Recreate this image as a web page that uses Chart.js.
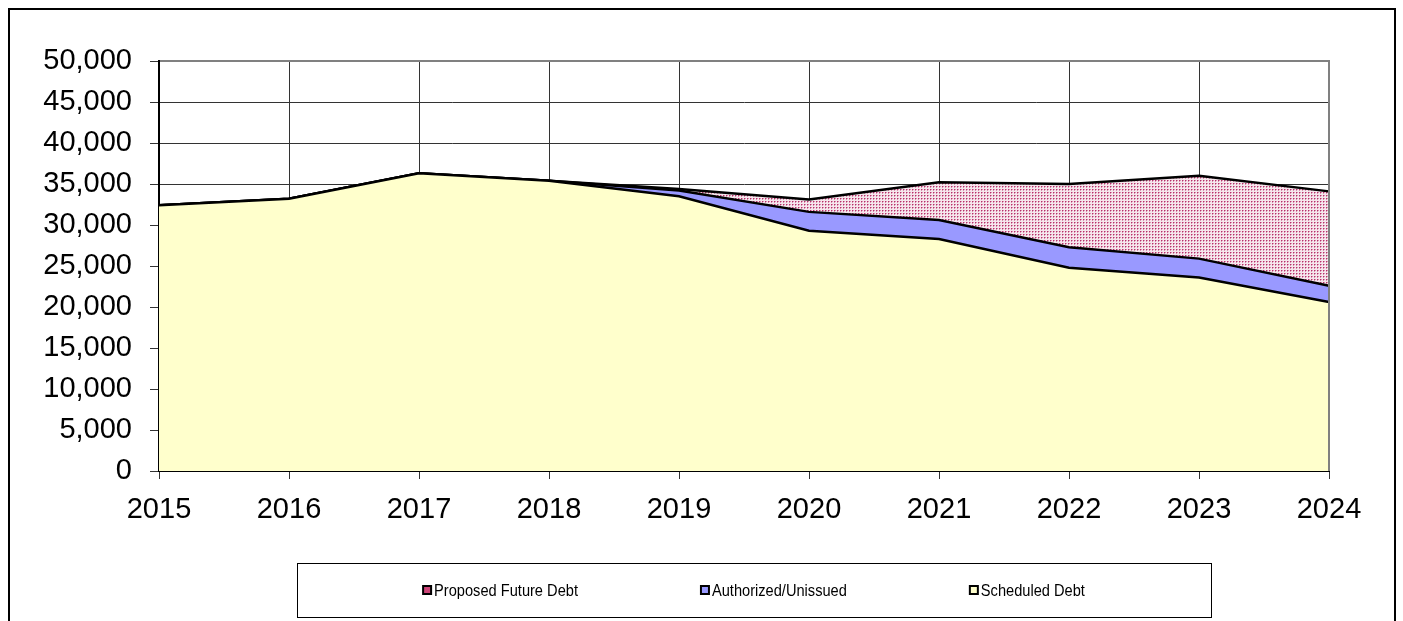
<!DOCTYPE html>
<html>
<head>
<meta charset="utf-8">
<script src="https://cdn.jsdelivr.net/npm/chart.js@4/dist/chart.umd.min.js"></script>
<style>
html,body{margin:0;padding:0;background:#fff;}
#wrap{position:relative;width:1403px;height:621px;}
</style>
</head>
<body>
<div id="wrap"><canvas id="c" width="1403" height="621"></canvas></div>
<script>
const years = ['2015','2016','2017','2018','2019','2020','2021','2022','2023','2024'];
const scheduledDebt = [32400, 33200, 36300, 35400, 33500, 29300, 28300, 24800, 23600, 20600];
const authorizedUnissued = [0, 0, 0, 0, 700, 2300, 2300, 2500, 2300, 2000];
const proposedFutureDebt = [0, 0, 0, 0, 200, 1500, 4600, 7700, 10100, 11500];
const yTicks = [0, 5000, 10000, 15000, 20000, 25000, 30000, 35000, 40000, 45000, 50000];

function makePattern() {
  const p = document.createElement('canvas');
  p.width = 3; p.height = 3;
  const g = p.getContext('2d');
  g.fillStyle = '#f6e6ec'; g.fillRect(0,0,3,3);
  g.fillStyle = '#d890b0'; g.fillRect(1,0,1,1); g.fillRect(0,1,1,1);
  g.fillStyle = '#b8306a'; g.fillRect(0,0,1,1);
  return document.getElementById('c').getContext('2d').createPattern(p, 'repeat');
}
const pinkPattern = makePattern();

const frame = {
  id: 'frame',
  beforeDraw(chart) {
    const ctx = chart.ctx;
    ctx.save();
    ctx.fillStyle = '#fff';
    ctx.fillRect(0,0,chart.width,chart.height);
    ctx.strokeStyle = '#000';
    ctx.lineWidth = 2;
    ctx.strokeRect(9, 9, 1386, 700);
    ctx.restore();
  },
  afterDraw(chart) {
    const ctx = chart.ctx;
    const a = chart.chartArea;
    ctx.save();
    ctx.strokeStyle = '#808080';
    ctx.lineWidth = 2;
    ctx.beginPath();
    ctx.moveTo(a.left + 1, a.top); ctx.lineTo(a.right, a.top); ctx.lineTo(a.right, a.bottom);
    ctx.stroke();
    // legend box
    const bx = 297, by = 563, bw = 914, bh = 54;
    ctx.strokeStyle = '#000';
    ctx.lineWidth = 1;
    ctx.strokeRect(bx + 0.5, by + 0.5, bw, bh);
    ctx.font = '17px "Liberation Sans", Arial, sans-serif';
    ctx.textBaseline = 'middle';
    const sx = 0.86;
    const ds = chart.data.datasets.slice().reverse();
    const box = 8, gapBox = 3, gap = 123;
    const widths = ds.map(d => box + gapBox + ctx.measureText(d.label).width * sx);
    const total = widths.reduce((s,w)=>s+w,0) + gap*(ds.length-1);
    let x = bx + bw/2 - total/2;
    const cy = by + bh/2;
    ds.forEach((d,i) => {
      ctx.fillStyle = d.legendColor;
      ctx.fillRect(x, cy - box/2, box, box);
      ctx.strokeStyle = '#000';
      ctx.lineWidth = 2;
      ctx.strokeRect(x, cy - box/2, box, box);
      ctx.fillStyle = '#000';
      ctx.save();
      ctx.translate(x + box + gapBox, cy + 1);
      ctx.scale(sx, 1);
      ctx.fillText(d.label, 0, 0);
      ctx.restore();
      x += widths[i] + gap;
    });
    ctx.restore();
  }
};

new Chart(document.getElementById('c'), {
  type: 'line',
  data: {
    labels: years,
    datasets: [
      { label: 'Scheduled Debt', data: scheduledDebt, backgroundColor: '#ffffcc', legendColor: '#ffffcc',
        borderColor: '#000', borderWidth: 2.5, fill: 'origin', pointRadius: 0, tension: 0 },
      { label: 'Authorized/Unissued', data: authorizedUnissued, backgroundColor: '#9999ff', legendColor: '#9999ff',
        borderColor: '#000', borderWidth: 2.5, fill: '-1', pointRadius: 0, tension: 0 },
      { label: 'Proposed Future Debt', data: proposedFutureDebt, backgroundColor: pinkPattern, legendColor: '#cc4477',
        borderColor: '#000', borderWidth: 2.5, fill: '-1', pointRadius: 0, tension: 0 }
    ]
  },
  options: {
    responsive: false,
    animation: false,
    events: [],
    layout: { padding: { left: 0, top: 61, right: 74, bottom: 100 } },
    plugins: { legend: { display: false }, tooltip: { enabled: false } },
    scales: {
      x: {
        offset: false,
        grid: { color: '#333', lineWidth: 1, tickLength: 8, drawOnChartArea: true },
        border: { color: '#000', width: 2 },
        ticks: { color: '#000', padding: 14, maxRotation: 0, autoSkip: false,
          font: { family: '"Liberation Sans", Arial, sans-serif', size: 29 } },
        afterFit(s) { s.height = 50; }
      },
      y: {
        stacked: true,
        min: 0, max: 50000,
        afterBuildTicks(s) { s.ticks = yTicks.map(v => ({ value: v })); },
        grid: { color: '#333', lineWidth: 1, tickLength: 9 },
        border: { color: '#000', width: 2 },
        ticks: { color: '#000', padding: 18,
          callback: v => Number(v).toLocaleString('en-US'),
          font: { family: '"Liberation Sans", Arial, sans-serif', size: 29 } },
        afterFit(s) { s.width = 159; }
      }
    }
  },
  plugins: [frame]
});
</script>
</body>
</html>
